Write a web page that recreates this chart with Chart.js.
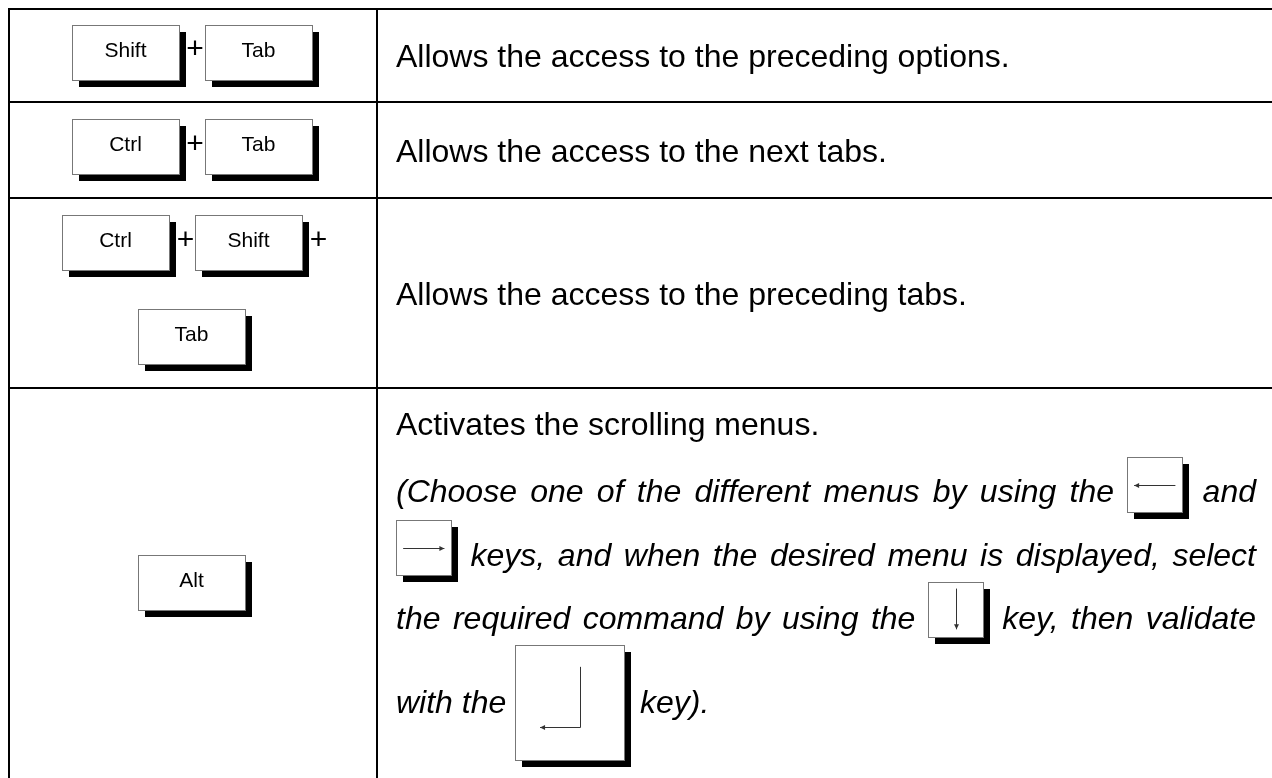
<!DOCTYPE html>
<html>
<head>
<meta charset="utf-8">
<script src="https://cdn.jsdelivr.net/npm/chart.js@4.4.1/dist/chart.umd.min.js"></script>
<style>
  html, body { margin: 0; padding: 0; background: #fff; }
  #wrap { width: 1272px; height: 778px; }
</style>
</head>
<body>
<div id="wrap"><canvas id="keysChart"></canvas></div>
<script>
// Table content
const shortcutKeys = [
    ['Shift', 'Tab'],
    ['Ctrl', 'Tab'],
    ['Ctrl', 'Shift', 'Tab'],
    ['Alt']
];
const keysPerLine = [2, 2, 2, 1];
const descriptions = [
    'Allows the access to the preceding options.',
    'Allows the access to the next tabs.',
    'Allows the access to the preceding tabs.',
    'Activates the scrolling menus.'
];
// Italic note of the last row, inline keys as {key: ...}
const altNoteLines = [
    ['(Choose one of the different menus by using the', { key: 'left' }, 'and'],
    [{ key: 'right' }, 'keys, and when the desired menu is displayed, select'],
    ['the required command by using the', { key: 'down' }, 'key, then validate'],
    ['with the', { key: 'enter' }, 'key).']
];

// Layout (value space of the chart scales = page pixels)
const layout = {
    left: 9, col: 377, right: 1290,
    rowLines: [9, 102, 198, 388, 783],
    keyW: 107, keyH: 55, shadow: 7, plusW: 19, keyPitch: 94,
    textX: 396, textRight: 1256,
    descFont: 32, keyFont: 21, plusFont: 30,
    noteBaselines: [435, 502, 566, 629, 713]
};
const inlineKeys = {
    left:  { w: 55, h: 55, drop: 10 },
    right: { w: 55, h: 55, drop: 9 },
    down:  { w: 55, h: 55, drop: 8 },
    enter: { w: 109, h: 115, drop: 47 }
};
const FONT = '"Liberation Sans", Arial, sans-serif';

function drawArrowHead(ctx, x, y, dir) {
    const l = 5, s = 2.5;
    ctx.beginPath();
    if (dir === 'left') { ctx.moveTo(x, y); ctx.lineTo(x + l, y - s); ctx.lineTo(x + l, y + s); }
    if (dir === 'right') { ctx.moveTo(x, y); ctx.lineTo(x - l, y - s); ctx.lineTo(x - l, y + s); }
    if (dir === 'down') { ctx.moveTo(x, y); ctx.lineTo(x - s, y - l); ctx.lineTo(x + s, y - l); }
    ctx.closePath();
    ctx.fill();
}

function drawGlyph(ctx, kind, x, y, w, h) {
    ctx.save();
    ctx.strokeStyle = '#333';
    ctx.fillStyle = '#333';
    ctx.lineWidth = 1;
    ctx.beginPath();
    if (kind === 'left' || kind === 'right') {
        const gy = Math.round(y + h * 0.5) + 0.5;
        const x1 = x + w * 0.13, x2 = x + w * 0.88;
        ctx.moveTo(x1, gy); ctx.lineTo(x2, gy); ctx.stroke();
        drawArrowHead(ctx, kind === 'left' ? x1 : x2, gy, kind);
    } else if (kind === 'down') {
        const gx = Math.round(x + w * 0.5) + 0.5;
        const y1 = y + h * 0.12, y2 = y + h * 0.86;
        ctx.moveTo(gx, y1); ctx.lineTo(gx, y2); ctx.stroke();
        drawArrowHead(ctx, gx, y2, 'down');
    } else if (kind === 'enter') {
        const gx = Math.round(x + w * 0.6) + 0.5;
        const y1 = y + h * 0.19, y2 = Math.round(y + h * 0.71) + 0.5;
        const x2 = x + w * 0.23;
        ctx.moveTo(gx, y1); ctx.lineTo(gx, y2); ctx.lineTo(x2, y2); ctx.stroke();
        drawArrowHead(ctx, x2, y2, 'left');
    }
    ctx.restore();
}

function drawKey(ctx, x, y, w, h, label, glyph) {
    x = Math.round(x); y = Math.round(y);
    ctx.fillStyle = '#000';
    ctx.fillRect(x + layout.shadow, y + layout.shadow, w, h);
    ctx.fillStyle = '#fff';
    ctx.fillRect(x, y, w, h);
    ctx.strokeStyle = '#777';
    ctx.lineWidth = 1;
    ctx.strokeRect(x + 0.5, y + 0.5, w, h);
    if (label) {
        ctx.fillStyle = '#000';
        ctx.font = layout.keyFont + 'px ' + FONT;
        ctx.textAlign = 'center';
        ctx.textBaseline = 'alphabetic';
        ctx.fillText(label, x + w / 2, y + h / 2 + layout.keyFont * 0.36 - 3);
    }
    if (glyph) drawGlyph(ctx, glyph, x, y, w, h);
}

const keyTablePlugin = {
    id: 'keyTable',
    afterDraw(chart) {
        const ctx = chart.ctx;
        const px = v => chart.scales.x.getPixelForValue(v);
        const py = v => chart.scales.y.getPixelForValue(v);
        const L = layout;
        ctx.save();

        // grid lines
        ctx.strokeStyle = '#000';
        ctx.lineWidth = 2;
        ctx.beginPath();
        L.rowLines.forEach(r => { ctx.moveTo(px(L.left - 1), py(r)); ctx.lineTo(px(L.right), py(r)); });
        [L.left, L.col].forEach(c => { ctx.moveTo(px(c), py(L.rowLines[0] - 1)); ctx.lineTo(px(c), py(L.rowLines[L.rowLines.length - 1])); });
        ctx.stroke();

        // left column: key combinations
        const cellCx = (L.left + L.col) / 2 + 2;
        const slotW = L.keyW + L.shadow;
        const slotH = L.keyH + L.shadow;
        shortcutKeys.forEach((keys, r) => {
            const rowCy = (L.rowLines[r] + L.rowLines[r + 1]) / 2;
            const lines = [];
            for (let i = 0; i < keys.length; i += keysPerLine[r]) lines.push(keys.slice(i, i + keysPerLine[r]));
            const groupH = lines.length * slotH + (lines.length - 1) * (L.keyPitch - slotH);
            let top = rowCy - groupH / 2;
            let consumed = 0;
            lines.forEach(line => {
                const moreAfter = consumed + line.length < keys.length;
                const nPlus = line.length - 1 + (moreAfter ? 1 : 0);
                const width = line.length * slotW + nPlus * L.plusW;
                let x = cellCx - width / 2;
                line.forEach((label, k) => {
                    drawKey(ctx, px(x), py(top), L.keyW, L.keyH, label);
                    x += slotW;
                    if (k < line.length - 1 || moreAfter) {
                        ctx.fillStyle = '#000';
                        ctx.font = L.plusFont + 'px ' + FONT;
                        ctx.textAlign = 'center';
                        ctx.textBaseline = 'middle';
                        ctx.fillText('+', px(x + L.plusW / 2), py(top + L.keyH / 2 - 2));
                        x += L.plusW;
                    }
                });
                consumed += line.length;
                top += L.keyPitch;
            });
        });

        // right column: descriptions
        ctx.fillStyle = '#000';
        ctx.textAlign = 'left';
        ctx.textBaseline = 'alphabetic';
        ctx.font = L.descFont + 'px ' + FONT;
        descriptions.forEach((text, r) => {
            let base;
            if (r < 3) base = (L.rowLines[r] + L.rowLines[r + 1]) / 2 + L.descFont * 0.36;
            else base = L.noteBaselines[0];
            ctx.fillText(text, px(L.textX), py(base));
        });

        // italic justified note with inline keys
        const italic = 'italic ' + L.descFont + 'px ' + FONT;
        ctx.font = italic;
        const spaceW = ctx.measureText(' ').width;
        altNoteLines.forEach((tokens, li) => {
            ctx.font = italic;
            const items = [];
            tokens.forEach(t => {
                if (typeof t === 'string') {
                    t.split(' ').forEach(w => items.push({ text: w, w: ctx.measureText(w).width }));
                } else {
                    const k = inlineKeys[t.key];
                    items.push({ key: t.key, w: k.w + L.shadow });
                }
            });
            const total = items.reduce((s, it) => s + it.w, 0);
            const last = li === altNoteLines.length - 1;
            const gap = last ? spaceW : (L.textRight - L.textX - total) / (items.length - 1);
            const base = L.noteBaselines[li + 1];
            let x = L.textX;
            items.forEach(it => {
                if (it.key) {
                    const k = inlineKeys[it.key];
                    drawKey(ctx, px(x), py(base + k.drop - k.h), k.w, k.h, null, it.key);
                } else {
                    ctx.font = italic;
                    ctx.fillStyle = '#000';
                    ctx.textAlign = 'left';
                    ctx.textBaseline = 'alphabetic';
                    ctx.fillText(it.text, px(x), py(base));
                }
                x += it.w + gap;
            });
        });
        ctx.restore();
    }
};

new Chart(document.getElementById('keysChart'), {
    type: 'scatter',
    data: { datasets: [] },
    options: {
        responsive: true,
        maintainAspectRatio: false,
        animation: false,
        layout: { padding: 0 },
        plugins: { legend: { display: false }, tooltip: { enabled: false } },
        scales: {
            x: { type: 'linear', min: 0, max: 1272, display: false },
            y: { type: 'linear', min: 0, max: 778, reverse: true, display: false }
        }
    },
    plugins: [keyTablePlugin]
});
</script>
</body>
</html>
